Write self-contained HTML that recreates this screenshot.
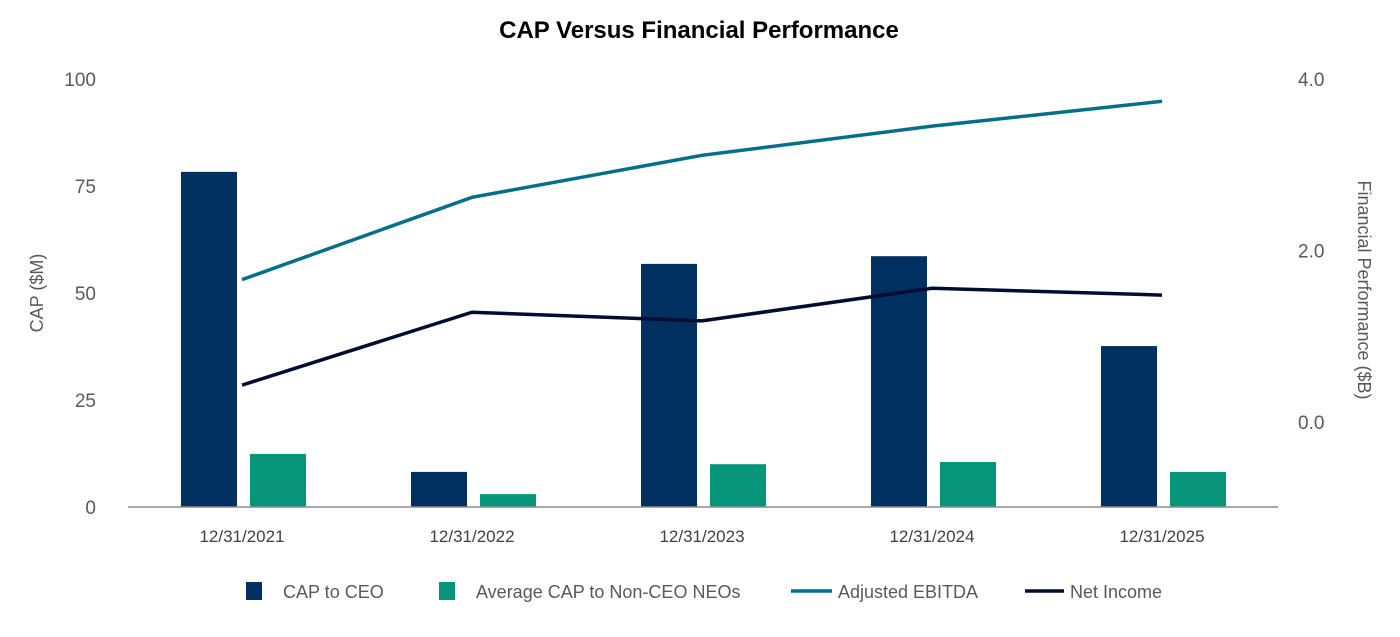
<!DOCTYPE html>
<html><head><meta charset="utf-8"><style>
body{margin:0;background:#fff;width:1400px;height:632px;overflow:hidden;font-family:"Liberation Sans",Arial,sans-serif}
</style></head><body>
<svg id="chart" width="1400" height="632" xmlns="http://www.w3.org/2000/svg" font-family="Liberation Sans, Arial, sans-serif"></svg>
<script>
const categories=["12/31/2021","12/31/2022","12/31/2023","12/31/2024","12/31/2025"];
const capCeo=[78.3,8.2,56.8,58.6,37.6];
const capNeo=[12.4,3.0,10.0,10.5,8.2];
const ebitda=[1.66,2.62,3.11,3.45,3.74];
const netIncome=[0.43,1.28,1.18,1.56,1.48];
const leftTicks=[0,25,50,75,100];
const rightTicks=["0.0","2.0","4.0"];

const svg=document.getElementById('chart');
const NS="http://www.w3.org/2000/svg";
function mk(t,a,txt){const e=document.createElementNS(NS,t);for(const k in a)e.setAttribute(k,a[k]);if(txt!=null)e.textContent=txt;svg.appendChild(e);return e;}
const yL=v=>507-v*4.28;
const yR=v=>422-v*85.75;
const xC=i=>242+i*230;

let e=mk('text',{x:699,y:38,'text-anchor':'middle','font-size':24,'font-weight':'bold',fill:'#000'},'CAP Versus Financial Performance');



leftTicks.forEach(t=>{
 const el=mk('text',{x:96,y:yL(t)+7,'text-anchor':'end','font-size':19,fill:'#595959'},String(t));
 
 
});
rightTicks.forEach(t=>{
 const el=mk('text',{x:1298,y:yR(parseFloat(t))+7,'font-size':19,fill:'#595959'},t);
 
 
});
e=mk('text',{x:0,y:0,transform:'translate(43,293) rotate(-90)','text-anchor':'middle','font-size':18,fill:'#595959'},'CAP ($M)');


e=mk('text',{x:0,y:0,transform:'translate(1358,290) rotate(90)','text-anchor':'middle','font-size':18,fill:'#595959'},'Financial Performance ($B)');



categories.forEach((c,i)=>{
 const b1=mk('rect',{x:xC(i)-61,y:yL(capCeo[i]),width:56,height:507-yL(capCeo[i]),fill:'#003060'});
 
 
 const b2=mk('rect',{x:xC(i)+8,y:yL(capNeo[i]),width:56,height:507-yL(capNeo[i]),fill:'#07957a'});
 
 
 const l=mk('text',{x:xC(i),y:542,'text-anchor':'middle','font-size':17,fill:'#404040'},c);
 
 
});
e=mk('line',{x1:128,x2:1278,y1:507,y2:507,stroke:'#8c8c8c','stroke-width':1.5});



function line(vals,color,name){
 const p=mk('polyline',{points:vals.map((v,i)=>xC(i)+','+yR(v)).join(' '),fill:'none',stroke:color,'stroke-width':3.5});
 
 
}
line(ebitda,'#00708a','line-adjusted-ebitda');
line(netIncome,'#000c30','line-net-income');

e=mk('rect',{x:246,y:582,width:16,height:18,fill:'#003060'});


e=mk('text',{x:283,y:598,'font-size':18,fill:'#595959'},'CAP to CEO');


e=mk('rect',{x:439,y:582,width:16,height:18,fill:'#07957a'});


e=mk('text',{x:476,y:598,'font-size':18,fill:'#595959'},'Average CAP to Non-CEO NEOs');


e=mk('line',{x1:791,x2:832,y1:591,y2:591,stroke:'#00708a','stroke-width':3.5});


e=mk('text',{x:838,y:598,'font-size':18,fill:'#595959'},'Adjusted EBITDA');


e=mk('line',{x1:1025,x2:1064,y1:591,y2:591,stroke:'#000c30','stroke-width':3.5});


e=mk('text',{x:1070,y:598,'font-size':18,fill:'#595959'},'Net Income');


</script>
</body></html>
